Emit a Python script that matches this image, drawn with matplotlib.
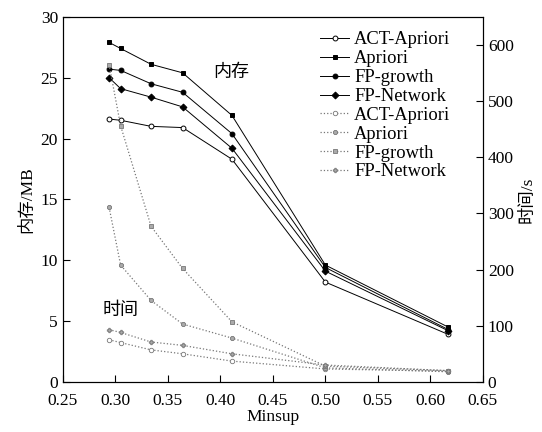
import matplotlib
matplotlib.use('Agg')
import matplotlib.pyplot as plt

plt.rcParams['font.family'] = ['Liberation Serif', 'Noto Sans CJK SC']

# 数据
minsup = [0.294, 0.305, 0.334, 0.364, 0.411, 0.500, 0.617]
labels = ['ACT-Apriori', 'Apriori', 'FP-growth', 'FP-Network']

mem_act = [21.6, 21.5, 21.0, 20.9, 18.3, 8.2, 3.9]
mem_apriori = [27.9, 27.4, 26.1, 25.4, 21.9, 9.6, 4.5]
mem_fpg = [25.7, 25.6, 24.5, 23.8, 20.4, 9.4, 4.3]
mem_fpn = [25.0, 24.1, 23.4, 22.6, 19.2, 9.1, 4.2]

time_act = [75, 70, 57, 50, 37, 23, 19]
time_apriori = [311, 208, 145, 103, 78, 25, 18]
time_fpg = [565, 456, 277, 202, 107, 28, 20]
time_fpn = [93, 88, 71, 65, 50, 30, 20]

fig = plt.figure(figsize=(5.42, 4.32), dpi=100)
ax = fig.add_axes([0.116, 0.116, 0.775, 0.845])
ax2 = ax.twinx()

mem_markers = [dict(marker='o', mfc='white'), dict(marker='s', mfc='black'),
               dict(marker='o', mfc='black'), dict(marker='D', mfc='black')]
h1 = []
for ys, lab, mk in zip([mem_act, mem_apriori, mem_fpg, mem_fpn], labels, mem_markers):
    l, = ax.plot(minsup, ys, '-', color='black', lw=0.7, ms=3.5, mec='black', mew=0.7,
                 label=lab, **mk)
    h1.append(l)

time_markers = [dict(marker='o', mfc='white'), dict(marker='8', mfc='#aaaaaa'),
                dict(marker='s', mfc='#aaaaaa'), dict(marker='P', mfc='#aaaaaa')]
h2 = []
for ys, lab, mk in zip([time_act, time_apriori, time_fpg, time_fpn], labels, time_markers):
    l, = ax2.plot(minsup, ys, ':', color='#777777', lw=0.9, ms=3.2, mec='#777777', mew=0.6,
                  label=lab, **mk)
    h2.append(l)

ax.set_xlim(0.25, 0.65)
ax.set_ylim(0, 30)
ax2.set_ylim(0, 650)
ax.set_xticks([0.25, 0.30, 0.35, 0.40, 0.45, 0.50, 0.55, 0.60, 0.65])
ax.set_yticks([0, 5, 10, 15, 20, 25, 30])
ax2.set_yticks([0, 100, 200, 300, 400, 500, 600])
ax.tick_params(direction='in', labelsize=12.5, length=5)
ax.tick_params(axis='x', pad=8)
ax2.tick_params(direction='in', labelsize=12.5, length=5)

ax.set_xlabel('Minsup', fontsize=12.5, labelpad=0)
ax.set_ylabel('内存/MB', fontsize=12.5, labelpad=4)
ax2.set_ylabel('时间/s', fontsize=12.5, labelpad=4)

ax.text(0.410, 25.4, '内存', fontsize=13, ha='center', va='center')
ax.text(0.305, 5.9, '时间', fontsize=13, ha='center', va='center')

ax2.legend(h1 + h2, labels + labels, loc='upper left', frameon=False, fontsize=13.3,
           handlelength=1.6, handletextpad=0.25, labelspacing=0.1,
           bbox_to_anchor=(0.612, 0.96), borderaxespad=0, borderpad=0)

fig.savefig('out.png', dpi=100)
